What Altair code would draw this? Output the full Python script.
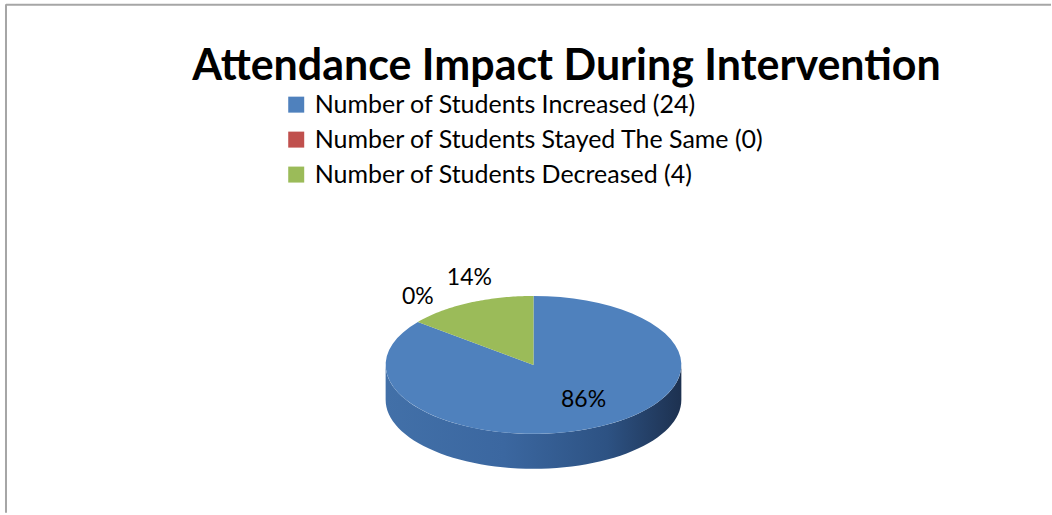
import altair as alt
import pandas as pd

categories = [
    "Number of Students Increased (24)",
    "Number of Students Stayed The Same (0)",
    "Number of Students Decreased (4)",
]
counts = [24, 0, 4]
slice_colors = ["#4F81BD", "#C0504D", "#9BBB59"]
title_text = "Attendance Impact During Intervention"

df = pd.DataFrame({"cat": categories, "count": counts, "idx": list(range(len(categories)))})

W, H = 1047, 510
OX, OY = 5, 3
CX, CY, RX, RY, DEPTH = 534 - OX, 365 - OY, 148, 69, 35

xs = alt.Scale(domain=[0, W], nice=False, zero=False)
ys = alt.Scale(domain=[0, H], nice=False, zero=False, reverse=True)

base = (
    alt.Chart(df)
    .transform_joinaggregate(total="sum(count)")
    .transform_window(cum="sum(count)", sort=[alt.SortField("idx")])
    .transform_calculate(
        a0="2*PI*(datum.cum-datum.count)/datum.total",
        a1="2*PI*datum.cum/datum.total",
        pct="round(100*datum.count/datum.total)+'%'",
    )
)

# 3D side (front rim)
side_grad = alt.Gradient(
    gradient="linear",
    x1=0, y1=0, x2=1, y2=0,
    stops=[
        alt.GradientStop(color="#4270A8", offset=0),
        alt.GradientStop(color="#3B67A0", offset=0.4),
        alt.GradientStop(color="#2D5283", offset=0.75),
        alt.GradientStop(color="#1D3150", offset=1),
    ],
)
side = (
    base.transform_calculate(s0="max(datum.a0, PI/2)", s1="min(datum.a1, 3*PI/2)")
    .transform_filter("datum.s1 > datum.s0")
    .transform_calculate(steps="sequence(0, 122)")
    .transform_flatten(["steps"], as_=["step"])
    .transform_calculate(
        u="datum.step <= 60 ? datum.step/60 : (121-datum.step)/60",
    )
    .transform_calculate(
        t="datum.s0 + (datum.s1-datum.s0)*datum.u",
    )
    .transform_calculate(
        px=f"{CX} + {RX}*sin(datum.t)",
        py=f"{CY} - {RY}*cos(datum.t) + (datum.step <= 60 ? 0 : {DEPTH})",
    )
    .mark_line(fill=side_grad, strokeWidth=0, interpolate="linear")
    .encode(
        x=alt.X("px:Q", scale=xs, axis=None),
        y=alt.Y("py:Q", scale=ys, axis=None),
        order="step:Q",
        detail="cat:N",
    )
)

top = (
    base.transform_calculate(steps="sequence(0, 62)")
    .transform_flatten(["steps"], as_=["step"])
    .transform_calculate(
        t="datum.a0 + (datum.a1-datum.a0)*clamp((datum.step-1)/59, 0, 1)",
        isc="datum.step == 0 || datum.step == 61",
    )
    .transform_calculate(
        px=f"datum.isc ? {CX} : {CX} + {RX}*sin(datum.t)",
        py=f"datum.isc ? {CY} : {CY} - {RY}*cos(datum.t)",
    )
    .mark_line(strokeWidth=0)
    .encode(
        x=alt.X("px:Q", scale=xs, axis=None),
        y=alt.Y("py:Q", scale=ys, axis=None),
        order="step:Q",
        detail="cat:N",
        fill=alt.Fill(
            "cat:N",
            scale=alt.Scale(domain=categories, range=slice_colors),
            legend=alt.Legend(
                orient="none",
                legendX=284 - OX,
                legendY=92 - OY,
                direction="vertical",
                title=None,
                symbolType="square",
                symbolSize=256,
                symbolStrokeWidth=0,
                labelFont="Lato",
                labelFontSize=25,
                labelColor="black",
                labelLimit=700,
                labelOffset=6,
                rowPadding=9,
                padding=0,
            ),
        ),
    )
)

labels = (
    base.transform_calculate(
        m="(datum.a0+datum.a1)/2",
        inside="datum.count/datum.total > 0.5",
    )
    .transform_calculate(
        lx=f"datum.inside ? {CX} + 0.78*{RX}*sin(datum.m) : {CX} + {RX}*sin(datum.m)",
        ly=f"datum.inside ? {CY} - 0.56*{RY}*cos(datum.m) : {CY} - {RY}*cos(datum.m) - 25",
    )
    .mark_text(font="Lato", fontSize=23, color="black", baseline="middle", align="center")
    .encode(
        x=alt.X("lx:Q", scale=xs, axis=None),
        y=alt.Y("ly:Q", scale=ys, axis=None),
        text="pct:N",
    )
)

title = (
    alt.Chart(pd.DataFrame({"t": [title_text]}))
    .mark_text(font="Lato", fontSize=43, fontWeight="bold", color="black", align="center", baseline="alphabetic")
    .encode(x=alt.value(567 - OX), y=alt.value(80 - OY), text="t:N")
)

frame_df = pd.DataFrame({"k": [0]})
top_border = alt.Chart(frame_df).mark_rule(color="#A6A6A6", strokeWidth=2).encode(
    x=alt.value(1), x2=alt.value(W), y=alt.value(1.5)
)
left_border = alt.Chart(frame_df).mark_rule(color="#A6A6A6", strokeWidth=2).encode(
    x=alt.value(1), y=alt.value(1), y2=alt.value(H)
)

chart = (
    alt.layer(top_border, left_border, side, top, labels, title)
    .properties(
        width=W,
        height=H,
        padding={"left": OX, "top": OY, "right": 0, "bottom": 0},
        background="white",
    )
    .configure_view(stroke="transparent")
)

chart.save("out.html", embed_options={"renderer": "svg", "actions": False})
